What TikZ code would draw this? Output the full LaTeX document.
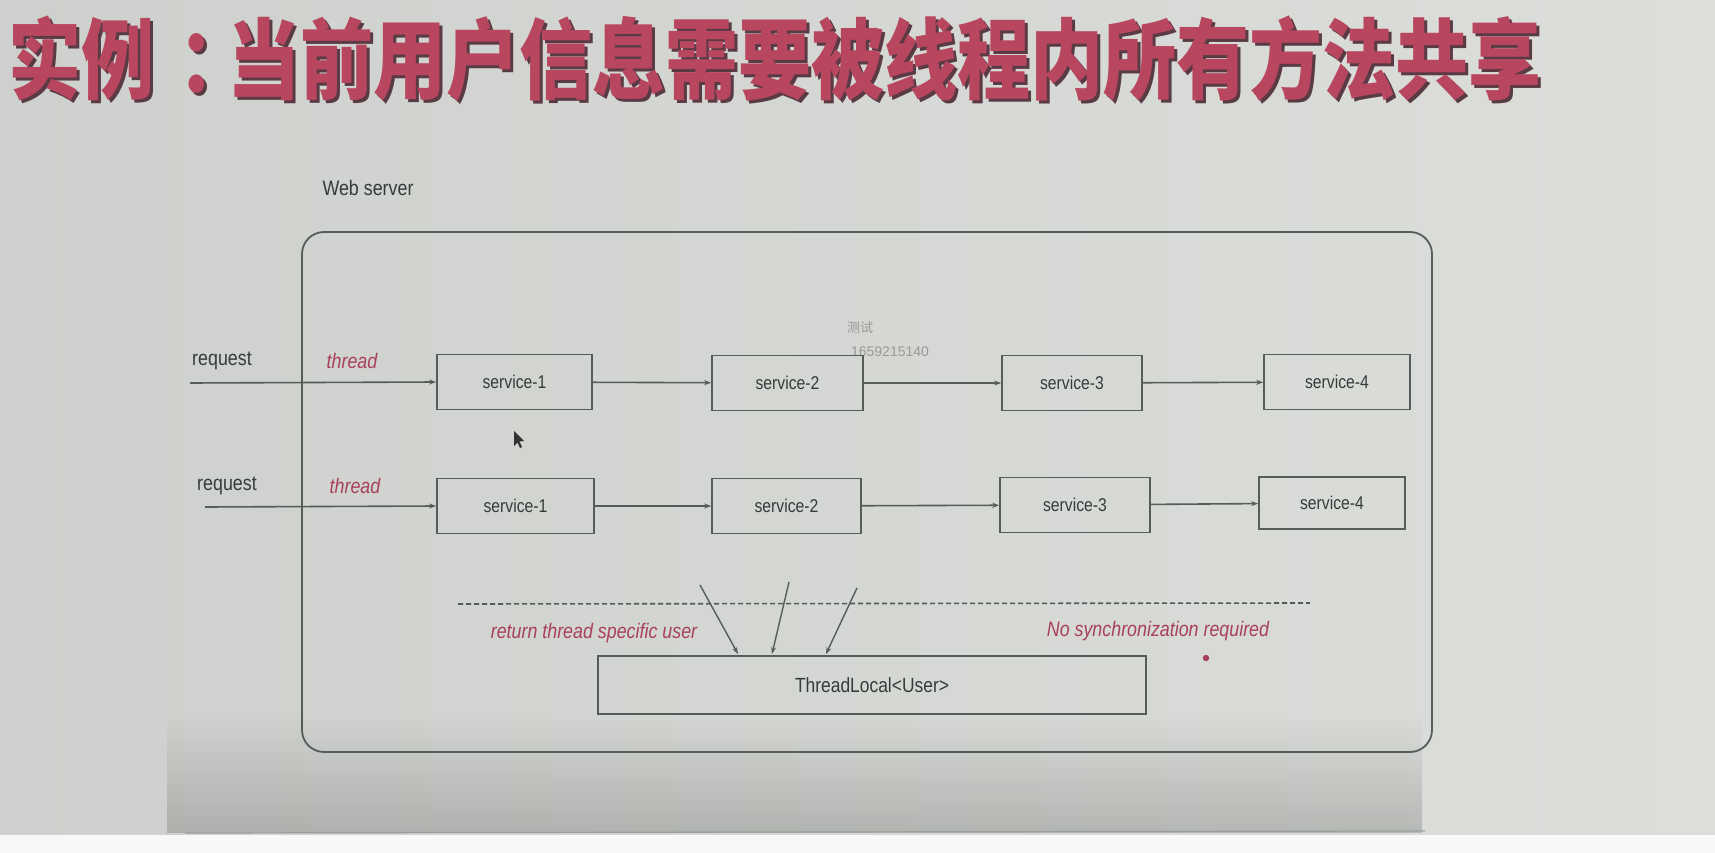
\documentclass[tikz,border=0pt]{standalone}
\usepackage{fontspec}
\setmainfont{Liberation Sans}
\newfontfamily\cjk{Noto Sans CJK SC}
\usetikzlibrary{arrows.meta,fadings}
\tikzfading[name=fadeup, top color=transparent!100, bottom color=transparent!0]
\definecolor{bgl}{HTML}{CDD0CC}
\definecolor{bgr}{HTML}{DCDEDA}
\definecolor{ln}{HTML}{555D5B}
\definecolor{tx}{HTML}{363B3B}
\definecolor{rd}{HTML}{A8405C}
\definecolor{ttl}{HTML}{B8465F}
\definecolor{shd}{HTML}{5A3A45}
\newcommand{\titletext}{实例\hspace{0.34em}：\hspace{-0.34em}当前用户信息需要被线程内所有方法共享}
\begin{document}
\begin{tikzpicture}[x=1pt,y=-1pt,
  svc/.style={draw=ln,line width=1.6pt,inner sep=0pt,minimum height=55pt,text=tx,
    font=\fontsize{18.5}{20}\selectfont},
  lbl/.style={text=tx,inner sep=0pt,font=\fontsize{21}{24}\selectfont},
  red/.style={text=rd,inner sep=0pt,font=\fontsize{21}{24}\selectfont\itshape},
  conn/.style={draw=ln,line width=1.6pt,-{Stealth[length=7pt,width=5pt]}},
  narrow/.style={transform shape,xscale=0.85}]
\path[use as bounding box,left color=bgl,right color=bgr] (0,0) rectangle (1715,853);
% bottom shadow of the slide
\fill[black,fill opacity=0.16,path fading=fadeup] (168,715) rectangle (1425,833);
\draw[ln!60,line width=1.2pt] (185,833) -- (1425,831);
\fill[white!80!bgr] (0,835) rectangle (1715,853);
% title
\node[inner sep=0pt,text=shd,font=\cjk\bfseries\fontsize{88}{90}\selectfont,xscale=0.83,transform shape] (tshadow) at (778,62) {\titletext};
\node[inner sep=0pt,text=ttl,font=\cjk\bfseries\fontsize{88}{90}\selectfont,xscale=0.83,transform shape] (title) at (775,59) {\titletext};
% web server
\node[lbl,narrow] (wslbl) at (368,188) {Web server};
\node[draw=ln,line width=1.8pt,rounded corners=22pt,minimum width=1130pt,minimum height=520pt,inner sep=0pt] (ws) at (867,492) {};
% watermark
\node[inner sep=0pt,text=black!40,font=\cjk\fontsize{13}{14}\selectfont] (wm1) at (860,328) {测试};
\node[inner sep=0pt,text=black!40,font=\rmfamily\fontsize{14}{15}\selectfont] (wm2) at (890,352) {1659215140};
% row 1
\node[svc,minimum width=155pt] (a1) at (514.5,382) {\scalebox{0.85}[1]{service-1}};
\node[svc,minimum width=151pt] (a2) at (787.5,383) {\scalebox{0.85}[1]{service-2}};
\node[svc,minimum width=140pt] (a3) at (1072,383) {\scalebox{0.85}[1]{service-3}};
\node[svc,minimum width=146pt] (a4) at (1337,382) {\scalebox{0.85}[1]{service-4}};
\coordinate (r1) at (190,383);
\node[lbl,narrow] (req1) at (222,361) {request};
\node[red,narrow] (th1) at (352,361) {thread};
\draw[conn] (r1) -- (a1.west);
\draw[conn] (a1) -- (a2);
\draw[conn] (a2) -- (a3);
\draw[conn] (a3) -- (a4);
% row 2
\node[svc,minimum width=157pt] (b1) at (515.5,506) {\scalebox{0.85}[1]{service-1}};
\node[svc,minimum width=149pt] (b2) at (786.5,506) {\scalebox{0.85}[1]{service-2}};
\node[svc,minimum width=150pt] (b3) at (1075,505) {\scalebox{0.85}[1]{service-3}};
\node[svc,minimum width=146pt,minimum height=52pt] (b4) at (1332,503) {\scalebox{0.85}[1]{service-4}};
\coordinate (r2) at (205,507);
\node[lbl,narrow] (req2) at (227,486) {request};
\node[red,narrow] (th2) at (355,486) {thread};
\draw[conn] (r2) -- (b1.west);
\draw[conn] (b1) -- (b2);
\draw[conn] (b2) -- (b3);
\draw[conn] (b3) -- (b4);
% dashed separator
\coordinate (d1) at (458,604);
\coordinate (d2) at (1310,603);
\draw[draw=ln,line width=1.6pt,dash pattern=on 5pt off 3pt] (d1) -- (d2);
% threadlocal
\node[draw=ln,line width=1.8pt,minimum width=548pt,minimum height=58pt,inner sep=0pt,text=tx,font=\fontsize{20.5}{22}\selectfont] (tl) at (872,685) {\scalebox{0.85}[1]{ThreadLocal<User>}};
\coordinate (s1) at (700,585);
\coordinate (e1) at (738,654);
\coordinate (s2) at (789,582);
\coordinate (e2) at (772,654);
\coordinate (s3) at (857,588);
\coordinate (e3) at (826,654);
\draw[conn,line width=1.4pt] (s1) -- (e1);
\draw[conn,line width=1.4pt] (s2) -- (e2);
\draw[conn,line width=1.4pt] (s3) -- (e3);
\node[red,narrow] (ret) at (594,633) {return thread specific user};
\node[red,narrow] (nosync) at (1158,631) {No synchronization required};
\fill[rd] (1206,658) circle (3.2pt);
% mouse cursor
\fill[black!80] (514,431) -- (514,446) -- (517.5,442.5) -- (520,448) -- (522,447) -- (519.5,441.5) -- (524,441) -- cycle;
\end{tikzpicture}
\end{document}
